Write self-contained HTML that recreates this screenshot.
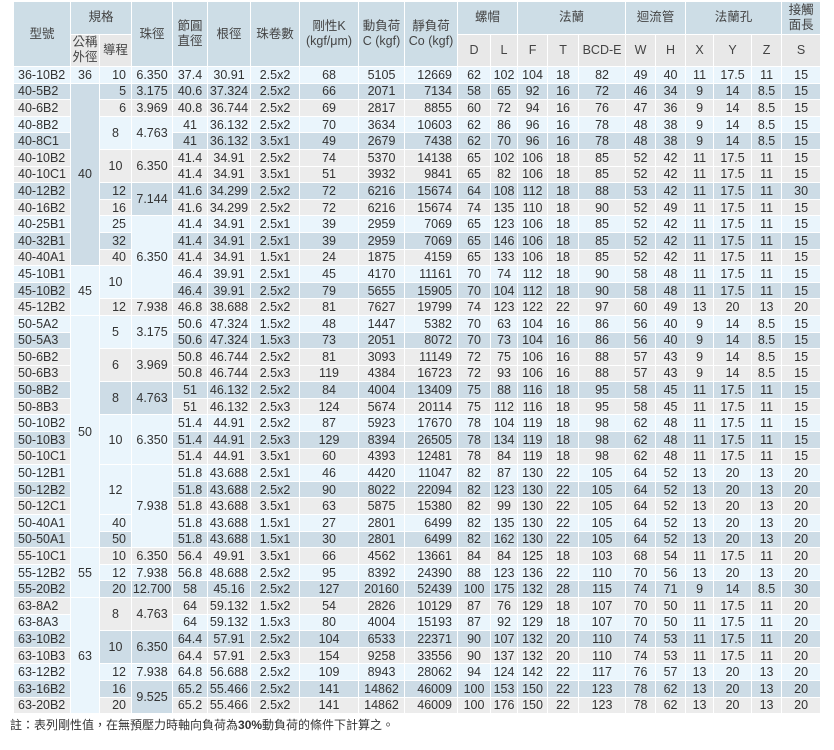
<!DOCTYPE html>
<html><head><meta charset="utf-8"><style>
body{margin:0;background:#fff;width:834px;height:750px;overflow:hidden;position:relative}
table{position:absolute;left:13px;top:1px;border-collapse:collapse;table-layout:fixed;width:807px;font-family:"Liberation Sans Narrow","Liberation Sans","Noto Sans CJK TC",sans-serif;font-size:12.5px;color:#333}
td,th{border:1px solid #fff;padding:0;text-align:center;white-space:nowrap;overflow:hidden;line-height:14px}
th{font-weight:normal;font-family:"Liberation Sans","Noto Sans CJK TC",sans-serif;font-size:12.5px;line-height:15px;background:#cddde6;color:#444}
th.s{background:#e8e8e8}
thead tr{height:32.5px}
tbody tr{height:16.6px}
td:first-child{text-align:left;padding-left:4px}
td.r{text-align:right;padding-right:5px}
.L td,td.L{background:#eaf5fc}
.B td,td.B{background:#cddce6}
.G td,td.G{background:#ececec}
td.L{background:#eaf5fc!important}td.B{background:#cddce6!important}td.G{background:#ececec!important}
.note{position:absolute;left:10px;top:716px;font-family:"Liberation Sans","Noto Sans CJK TC",sans-serif;font-size:12px;color:#333}
</style></head><body>
<table>
<colgroup><col style="width:57px"><col style="width:29px"><col style="width:32px"><col style="width:41px"><col style="width:35px"><col style="width:43px"><col style="width:49px"><col style="width:59px"><col style="width:46px"><col style="width:53px"><col style="width:33px"><col style="width:27px"><col style="width:30px"><col style="width:31px"><col style="width:47px"><col style="width:30px"><col style="width:30px"><col style="width:28px"><col style="width:38px"><col style="width:30px"><col style="width:39px"></colgroup>
<thead>
<tr><th rowspan="2">型號</th><th colspan="2">規格</th><th rowspan="2">珠徑</th><th rowspan="2">節圓<br>直徑</th><th rowspan="2">根徑</th><th rowspan="2">珠卷數</th><th rowspan="2">剛性K<br>(kgf/μm)</th><th rowspan="2">動負荷<br>C (kgf)</th><th rowspan="2">靜負荷<br>Co (kgf)</th><th colspan="2">螺帽</th><th colspan="3">法蘭</th><th colspan="2">迴流管</th><th colspan="3">法蘭孔</th><th>接觸<br>面長</th></tr>
<tr><th class="s">公稱<br>外徑</th><th class="s">導程</th><th class="s">D</th><th class="s">L</th><th class="s">F</th><th class="s">T</th><th class="s">BCD-E</th><th class="s">W</th><th class="s">H</th><th class="s">X</th><th class="s">Y</th><th class="s">Z</th><th class="s">S</th></tr>
</thead>
<tbody>
<tr class="L"><td>36-10B2</td><td>36</td><td class="r">10</td><td>6.350</td><td>37.4</td><td>30.91</td><td>2.5x2</td><td>68</td><td>5105</td><td class="r">12669</td><td>62</td><td>102</td><td>104</td><td>18</td><td>82</td><td>49</td><td>40</td><td>11</td><td>17.5</td><td>11</td><td>15</td></tr>
<tr class="B"><td>40-5B2</td><td rowspan="11" class="B">40</td><td class="r">5</td><td>3.175</td><td>40.6</td><td>37.324</td><td>2.5x2</td><td>66</td><td>2071</td><td class="r">7134</td><td>58</td><td>65</td><td>92</td><td>16</td><td>72</td><td>46</td><td>34</td><td>9</td><td>14</td><td>8.5</td><td>15</td></tr>
<tr class="G"><td>40-6B2</td><td class="r">6</td><td>3.969</td><td>40.8</td><td>36.744</td><td>2.5x2</td><td>69</td><td>2817</td><td class="r">8855</td><td>60</td><td>72</td><td>94</td><td>16</td><td>76</td><td>47</td><td>36</td><td>9</td><td>14</td><td>8.5</td><td>15</td></tr>
<tr class="L"><td>40-8B2</td><td rowspan="2" class="L">8</td><td rowspan="2" class="L">4.763</td><td>41</td><td>36.132</td><td>2.5x2</td><td>70</td><td>3634</td><td class="r">10603</td><td>62</td><td>86</td><td>96</td><td>16</td><td>78</td><td>48</td><td>38</td><td>9</td><td>14</td><td>8.5</td><td>15</td></tr>
<tr class="B"><td>40-8C1</td><td>41</td><td>36.132</td><td>3.5x1</td><td>49</td><td>2679</td><td class="r">7438</td><td>62</td><td>70</td><td>96</td><td>16</td><td>78</td><td>48</td><td>38</td><td>9</td><td>14</td><td>8.5</td><td>15</td></tr>
<tr class="G"><td>40-10B2</td><td rowspan="2" class="G">10</td><td rowspan="2" class="G">6.350</td><td>41.4</td><td>34.91</td><td>2.5x2</td><td>74</td><td>5370</td><td class="r">14138</td><td>65</td><td>102</td><td>106</td><td>18</td><td>85</td><td>52</td><td>42</td><td>11</td><td>17.5</td><td>11</td><td>15</td></tr>
<tr class="G"><td>40-10C1</td><td>41.4</td><td>34.91</td><td>3.5x1</td><td>51</td><td>3932</td><td class="r">9841</td><td>65</td><td>82</td><td>106</td><td>18</td><td>85</td><td>52</td><td>42</td><td>11</td><td>17.5</td><td>11</td><td>15</td></tr>
<tr class="B"><td>40-12B2</td><td class="r">12</td><td rowspan="2" class="B">7.144</td><td>41.6</td><td>34.299</td><td>2.5x2</td><td>72</td><td>6216</td><td class="r">15674</td><td>64</td><td>108</td><td>112</td><td>18</td><td>88</td><td>53</td><td>42</td><td>11</td><td>17.5</td><td>11</td><td>30</td></tr>
<tr class="G"><td>40-16B2</td><td class="r">16</td><td>41.6</td><td>34.299</td><td>2.5x2</td><td>72</td><td>6216</td><td class="r">15674</td><td>74</td><td>135</td><td>110</td><td>18</td><td>90</td><td>52</td><td>49</td><td>11</td><td>17.5</td><td>11</td><td>15</td></tr>
<tr class="L"><td>40-25B1</td><td class="r">25</td><td rowspan="5" class="L">6.350</td><td>41.4</td><td>34.91</td><td>2.5x1</td><td>39</td><td>2959</td><td class="r">7069</td><td>65</td><td>123</td><td>106</td><td>18</td><td>85</td><td>52</td><td>42</td><td>11</td><td>17.5</td><td>11</td><td>15</td></tr>
<tr class="B"><td>40-32B1</td><td class="r">32</td><td>41.4</td><td>34.91</td><td>2.5x1</td><td>39</td><td>2959</td><td class="r">7069</td><td>65</td><td>146</td><td>106</td><td>18</td><td>85</td><td>52</td><td>42</td><td>11</td><td>17.5</td><td>11</td><td>15</td></tr>
<tr class="G"><td>40-40A1</td><td class="r">40</td><td>41.4</td><td>34.91</td><td>1.5x1</td><td>24</td><td>1875</td><td class="r">4159</td><td>65</td><td>133</td><td>106</td><td>18</td><td>85</td><td>52</td><td>42</td><td>11</td><td>17.5</td><td>11</td><td>15</td></tr>
<tr class="L"><td>45-10B1</td><td rowspan="3" class="L">45</td><td rowspan="2" class="L">10</td><td>46.4</td><td>39.91</td><td>2.5x1</td><td>45</td><td>4170</td><td class="r">11161</td><td>70</td><td>74</td><td>112</td><td>18</td><td>90</td><td>58</td><td>48</td><td>11</td><td>17.5</td><td>11</td><td>15</td></tr>
<tr class="B"><td>45-10B2</td><td>46.4</td><td>39.91</td><td>2.5x2</td><td>79</td><td>5655</td><td class="r">15905</td><td>70</td><td>104</td><td>112</td><td>18</td><td>90</td><td>58</td><td>48</td><td>11</td><td>17.5</td><td>11</td><td>15</td></tr>
<tr class="G"><td>45-12B2</td><td class="r">12</td><td>7.938</td><td>46.8</td><td>38.688</td><td>2.5x2</td><td>81</td><td>7627</td><td class="r">19799</td><td>74</td><td>123</td><td>122</td><td>22</td><td>97</td><td>60</td><td>49</td><td>13</td><td>20</td><td>13</td><td>20</td></tr>
<tr class="L"><td>50-5A2</td><td rowspan="14" class="L">50</td><td rowspan="2" class="L">5</td><td rowspan="2" class="L">3.175</td><td>50.6</td><td>47.324</td><td>1.5x2</td><td>48</td><td>1447</td><td class="r">5382</td><td>70</td><td>63</td><td>104</td><td>16</td><td>86</td><td>56</td><td>40</td><td>9</td><td>14</td><td>8.5</td><td>15</td></tr>
<tr class="B"><td>50-5A3</td><td>50.6</td><td>47.324</td><td>1.5x3</td><td>73</td><td>2051</td><td class="r">8072</td><td>70</td><td>73</td><td>104</td><td>16</td><td>86</td><td>56</td><td>40</td><td>9</td><td>14</td><td>8.5</td><td>15</td></tr>
<tr class="G"><td>50-6B2</td><td rowspan="2" class="G">6</td><td rowspan="2" class="G">3.969</td><td>50.8</td><td>46.744</td><td>2.5x2</td><td>81</td><td>3093</td><td class="r">11149</td><td>72</td><td>75</td><td>106</td><td>16</td><td>88</td><td>57</td><td>43</td><td>9</td><td>14</td><td>8.5</td><td>15</td></tr>
<tr class="G"><td>50-6B3</td><td>50.8</td><td>46.744</td><td>2.5x3</td><td>119</td><td>4384</td><td class="r">16723</td><td>72</td><td>93</td><td>106</td><td>16</td><td>88</td><td>57</td><td>43</td><td>9</td><td>14</td><td>8.5</td><td>15</td></tr>
<tr class="B"><td>50-8B2</td><td rowspan="2" class="B">8</td><td rowspan="2" class="B">4.763</td><td>51</td><td>46.132</td><td>2.5x2</td><td>84</td><td>4004</td><td class="r">13409</td><td>75</td><td>88</td><td>116</td><td>18</td><td>95</td><td>58</td><td>45</td><td>11</td><td>17.5</td><td>11</td><td>15</td></tr>
<tr class="G"><td>50-8B3</td><td>51</td><td>46.132</td><td>2.5x3</td><td>124</td><td>5674</td><td class="r">20114</td><td>75</td><td>112</td><td>116</td><td>18</td><td>95</td><td>58</td><td>45</td><td>11</td><td>17.5</td><td>11</td><td>15</td></tr>
<tr class="L"><td>50-10B2</td><td rowspan="3" class="L">10</td><td rowspan="3" class="L">6.350</td><td>51.4</td><td>44.91</td><td>2.5x2</td><td>87</td><td>5923</td><td class="r">17670</td><td>78</td><td>104</td><td>119</td><td>18</td><td>98</td><td>62</td><td>48</td><td>11</td><td>17.5</td><td>11</td><td>15</td></tr>
<tr class="B"><td>50-10B3</td><td>51.4</td><td>44.91</td><td>2.5x3</td><td>129</td><td>8394</td><td class="r">26505</td><td>78</td><td>134</td><td>119</td><td>18</td><td>98</td><td>62</td><td>48</td><td>11</td><td>17.5</td><td>11</td><td>15</td></tr>
<tr class="G"><td>50-10C1</td><td>51.4</td><td>44.91</td><td>3.5x1</td><td>60</td><td>4393</td><td class="r">12481</td><td>78</td><td>84</td><td>119</td><td>18</td><td>98</td><td>62</td><td>48</td><td>11</td><td>17.5</td><td>11</td><td>15</td></tr>
<tr class="L"><td>50-12B1</td><td rowspan="3" class="L">12</td><td rowspan="5" class="L">7.938</td><td>51.8</td><td>43.688</td><td>2.5x1</td><td>46</td><td>4420</td><td class="r">11047</td><td>82</td><td>87</td><td>130</td><td>22</td><td>105</td><td>64</td><td>52</td><td>13</td><td>20</td><td>13</td><td>20</td></tr>
<tr class="B"><td>50-12B2</td><td>51.8</td><td>43.688</td><td>2.5x2</td><td>90</td><td>8022</td><td class="r">22094</td><td>82</td><td>123</td><td>130</td><td>22</td><td>105</td><td>64</td><td>52</td><td>13</td><td>20</td><td>13</td><td>20</td></tr>
<tr class="G"><td>50-12C1</td><td>51.8</td><td>43.688</td><td>3.5x1</td><td>63</td><td>5875</td><td class="r">15380</td><td>82</td><td>99</td><td>130</td><td>22</td><td>105</td><td>64</td><td>52</td><td>13</td><td>20</td><td>13</td><td>20</td></tr>
<tr class="L"><td>50-40A1</td><td class="r">40</td><td>51.8</td><td>43.688</td><td>1.5x1</td><td>27</td><td>2801</td><td class="r">6499</td><td>82</td><td>135</td><td>130</td><td>22</td><td>105</td><td>64</td><td>52</td><td>13</td><td>20</td><td>13</td><td>20</td></tr>
<tr class="B"><td>50-50A1</td><td class="r">50</td><td>51.8</td><td>43.688</td><td>1.5x1</td><td>30</td><td>2801</td><td class="r">6499</td><td>82</td><td>162</td><td>130</td><td>22</td><td>105</td><td>64</td><td>52</td><td>13</td><td>20</td><td>13</td><td>20</td></tr>
<tr class="G"><td>55-10C1</td><td rowspan="3" class="L">55</td><td class="r">10</td><td>6.350</td><td>56.4</td><td>49.91</td><td>3.5x1</td><td>66</td><td>4562</td><td class="r">13661</td><td>84</td><td>84</td><td>125</td><td>18</td><td>103</td><td>68</td><td>54</td><td>11</td><td>17.5</td><td>11</td><td>20</td></tr>
<tr class="L"><td>55-12B2</td><td class="r">12</td><td>7.938</td><td>56.8</td><td>48.688</td><td>2.5x2</td><td>95</td><td>8392</td><td class="r">24390</td><td>88</td><td>123</td><td>136</td><td>22</td><td>110</td><td>70</td><td>56</td><td>13</td><td>20</td><td>13</td><td>20</td></tr>
<tr class="B"><td>55-20B2</td><td class="r">20</td><td>12.700</td><td>58</td><td>45.16</td><td>2.5x2</td><td>127</td><td>20160</td><td class="r">52439</td><td>100</td><td>175</td><td>132</td><td>28</td><td>115</td><td>74</td><td>71</td><td>9</td><td>14</td><td>8.5</td><td>30</td></tr>
<tr class="G"><td>63-8A2</td><td rowspan="7" class="L">63</td><td rowspan="2" class="G">8</td><td rowspan="2" class="G">4.763</td><td>64</td><td>59.132</td><td>1.5x2</td><td>54</td><td>2826</td><td class="r">10129</td><td>87</td><td>76</td><td>129</td><td>18</td><td>107</td><td>70</td><td>50</td><td>11</td><td>17.5</td><td>11</td><td>20</td></tr>
<tr class="L"><td>63-8A3</td><td>64</td><td>59.132</td><td>1.5x3</td><td>80</td><td>4004</td><td class="r">15193</td><td>87</td><td>92</td><td>129</td><td>18</td><td>107</td><td>70</td><td>50</td><td>11</td><td>17.5</td><td>11</td><td>20</td></tr>
<tr class="B"><td>63-10B2</td><td rowspan="2" class="B">10</td><td rowspan="2" class="B">6.350</td><td>64.4</td><td>57.91</td><td>2.5x2</td><td>104</td><td>6533</td><td class="r">22371</td><td>90</td><td>107</td><td>132</td><td>20</td><td>110</td><td>74</td><td>53</td><td>11</td><td>17.5</td><td>11</td><td>20</td></tr>
<tr class="G"><td>63-10B3</td><td>64.4</td><td>57.91</td><td>2.5x3</td><td>154</td><td>9258</td><td class="r">33556</td><td>90</td><td>137</td><td>132</td><td>20</td><td>110</td><td>74</td><td>53</td><td>11</td><td>17.5</td><td>11</td><td>20</td></tr>
<tr class="L"><td>63-12B2</td><td class="r">12</td><td>7.938</td><td>64.8</td><td>56.688</td><td>2.5x2</td><td>109</td><td>8943</td><td class="r">28062</td><td>94</td><td>124</td><td>142</td><td>22</td><td>117</td><td>76</td><td>57</td><td>13</td><td>20</td><td>13</td><td>20</td></tr>
<tr class="B"><td>63-16B2</td><td class="r">16</td><td rowspan="2" class="B">9.525</td><td>65.2</td><td>55.466</td><td>2.5x2</td><td>141</td><td>14862</td><td class="r">46009</td><td>100</td><td>153</td><td>150</td><td>22</td><td>123</td><td>78</td><td>62</td><td>13</td><td>20</td><td>13</td><td>20</td></tr>
<tr class="G"><td>63-20B2</td><td class="r">20</td><td>65.2</td><td>55.466</td><td>2.5x2</td><td>141</td><td>14862</td><td class="r">46009</td><td>100</td><td>176</td><td>150</td><td>22</td><td>123</td><td>78</td><td>62</td><td>13</td><td>20</td><td>13</td><td>20</td></tr>
</tbody></table>
<div class="note">註：表列剛性值，在無預壓力時軸向負荷為<b>30%</b>動負荷的條件下計算之。</div>
</body></html>
